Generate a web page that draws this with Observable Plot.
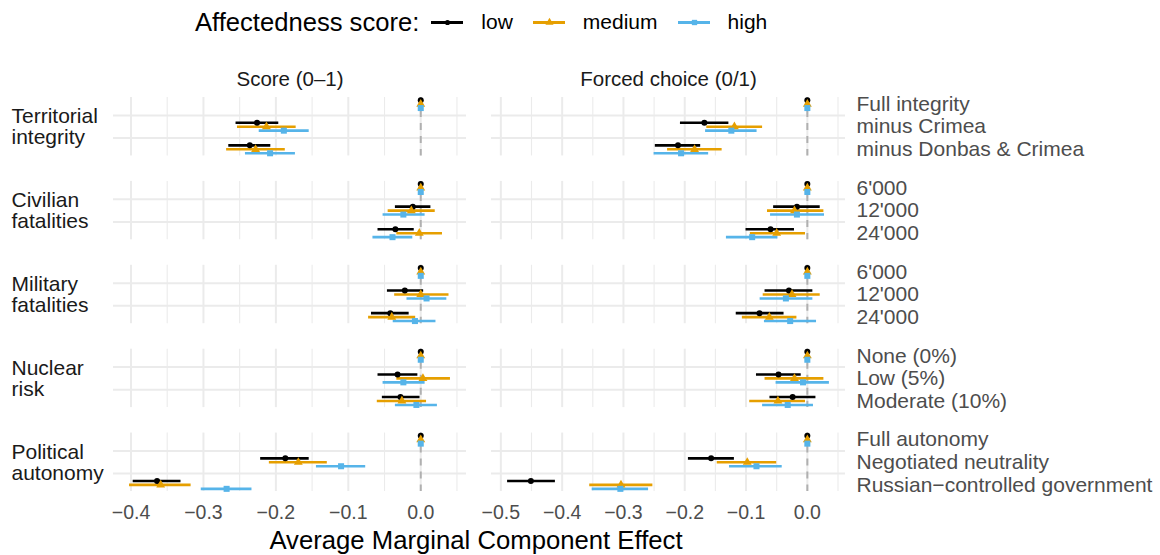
<!DOCTYPE html>
<html><head><meta charset="utf-8">
<script src="https://cdn.jsdelivr.net/npm/d3@7"></script>
<script src="https://cdn.jsdelivr.net/npm/@observablehq/plot@0.6"></script>
<style>
body{margin:0;width:1160px;height:555px;position:relative;background:#fff;font-family:"Liberation Sans",Arial,Helvetica,sans-serif;overflow:hidden}
#legend{position:absolute;left:195px;top:6px;height:32px;display:flex;align-items:center;color:#000}
#legend .title{font-size:25.6px;margin-right:12px}
#legend .lab{font-size:21px;margin-left:18px;margin-right:20px}
#legend svg{display:block}
#left{position:absolute;left:0;top:0}
#right{position:absolute;left:480px;top:0}
#xtitle{position:absolute;left:0;width:952px;top:526px;height:28px;line-height:28px;text-align:center;font-size:25.7px;color:#000}
</style></head><body>
<div id="legend"></div>
<div id="left"></div>
<div id="right"></div>
<div id="xtitle">Average Marginal Component Effect</div>
<script>
const FONT = '"Liberation Sans", Arial, Helvetica, sans-serif';

// ---- categories ----
const attributes = ["Territorial integrity", "Civilian fatalities", "Military fatalities", "Nuclear risk", "Political autonomy"];
const attributeLabels = ["Territorial\nintegrity", "Civilian\nfatalities", "Military\nfatalities", "Nuclear\nrisk", "Political\nautonomy"];
const levels = [
  ["Full integrity", "minus Crimea", "minus Donbas & Crimea"],
  ["6'000", "12'000", "24'000"],
  ["6'000", "12'000", "24'000"],
  ["None (0%)", "Low (5%)", "Moderate (10%)"],
  ["Full autonomy", "Negotiated neutrality", "Russian\u2212controlled government"]
];
const groups = ["low", "medium", "high"];
const groupColors = ["#000000", "#E69F00", "#56B4E9"];
const groupSymbols = ["circle", "triangle", "square"];
const measureTitles = ["Score (0\u20131)", "Forced choice (0/1)"];

// ---- values: [estimate, lower, upper] per level (attribute order, 3 levels each) ----
const scoreLow = [
  [0,0,0], [-0.226,-0.255,-0.196], [-0.236,-0.265,-0.207],
  [0,0,0], [-0.011,-0.035,0.014], [-0.035,-0.059,-0.009],
  [0,0,0], [-0.022,-0.046,0.004], [-0.042,-0.068,-0.016],
  [0,0,0], [-0.032,-0.059,-0.004], [-0.028,-0.053,-0.001],
  [0,0,0], [-0.187,-0.221,-0.154], [-0.364,-0.397,-0.331]
];
const scoreMedium = [
  [0,0,0], [-0.213,-0.253,-0.172], [-0.228,-0.268,-0.187],
  [0,0,0], [-0.013,-0.045,0.020], [-0.002,-0.033,0.030],
  [0,0,0], [0.000,-0.036,0.039], [-0.040,-0.072,-0.007],
  [0,0,0], [0.003,-0.033,0.041], [-0.026,-0.060,0.008],
  [0,0,0], [-0.169,-0.209,-0.129], [-0.359,-0.402,-0.317]
];
const scoreHigh = [
  [0,0,0], [-0.189,-0.223,-0.154], [-0.208,-0.242,-0.173],
  [0,0,0], [-0.024,-0.052,0.006], [-0.039,-0.066,-0.011],
  [0,0,0], [0.008,-0.019,0.036], [-0.008,-0.038,0.021],
  [0,0,0], [-0.024,-0.052,0.006], [-0.006,-0.035,0.023],
  [0,0,0], [-0.110,-0.144,-0.076], [-0.268,-0.303,-0.233]
];
const forcedLow = [
  [0,0,0], [-0.168,-0.207,-0.128], [-0.211,-0.248,-0.174],
  [0,0,0], [-0.017,-0.055,0.021], [-0.060,-0.100,-0.021],
  [0,0,0], [-0.030,-0.069,0.009], [-0.078,-0.116,-0.038],
  [0,0,0], [-0.047,-0.083,-0.010], [-0.024,-0.061,0.014],
  [0,0,0], [-0.157,-0.194,-0.119], [-0.451,-0.489,-0.411]
];
const forcedMedium = [
  [0,0,0], [-0.119,-0.164,-0.073], [-0.184,-0.228,-0.139],
  [0,0,0], [-0.021,-0.065,0.027], [-0.050,-0.093,-0.003],
  [0,0,0], [-0.025,-0.072,0.021], [-0.062,-0.106,-0.017],
  [0,0,0], [-0.021,-0.069,0.027], [-0.048,-0.094,-0.003],
  [0,0,0], [-0.098,-0.147,-0.050], [-0.304,-0.355,-0.252]
];
const forcedHigh = [
  [0,0,0], [-0.124,-0.166,-0.082], [-0.206,-0.250,-0.161],
  [0,0,0], [-0.017,-0.060,0.028], [-0.090,-0.132,-0.048],
  [0,0,0], [-0.035,-0.077,0.009], [-0.028,-0.070,0.015],
  [0,0,0], [-0.007,-0.051,0.036], [-0.032,-0.073,0.010],
  [0,0,0], [-0.083,-0.127,-0.041], [-0.305,-0.351,-0.259]
];

// ---- tick values ----
const scoreTicks = [-0.4, -0.3, -0.2, -0.1, 0];
const scoreMinor = [-0.35, -0.25, -0.15, -0.05, 0.05];
const forcedTicks = [-0.5, -0.4, -0.3, -0.2, -0.1, 0];
const forcedMinor = [-0.45, -0.35, -0.25, -0.15, -0.05, 0.05];
const levelGrid = [0.5, 1.5];
const dodge = [-0.175, 0, 0.175];

function buildRows(arrs) {
  const rows = [];
  attributes.forEach((a, ai) => {
    levels[ai].forEach((lv, li) => {
      groups.forEach((g, gi) => {
        const [est, lo, hi] = arrs[gi][ai * 3 + li];
        rows.push({attribute: a, level: lv, li, group: g, gi, est, lo, hi, yy: li + dodge[gi]});
      });
    });
  });
  return rows;
}
const levelRows = attributes.flatMap((a, ai) => levels[ai].map((lv, li) => ({attribute: a, li, label: lv})));

function panel({rows, title, ticks, minor, rowLabels, levelLabels, width, marginLeft, marginRight}) {
  const lo = d3.min(rows, d => d.lo), hi = d3.max(rows, d => d.hi), pad = (hi - lo) * 0.05;
  const marks = [
    Plot.ruleX(minor, {stroke: "#ebebeb", strokeWidth: 1.1}),
    Plot.ruleX(ticks, {stroke: "#ebebeb", strokeWidth: 2}),
    Plot.ruleY(levelGrid, {stroke: "#ebebeb", strokeWidth: 2}),
    Plot.ruleX([0], {stroke: "#b0b0b0", strokeWidth: 2, strokeDasharray: "7,6"}),
    Plot.ruleY(rows, {fy: "attribute", y: "yy", x1: "lo", x2: "hi", stroke: "group", strokeWidth: 2.6}),
    ...groups.map((g, gi) => Plot.dot(rows.filter(d => d.group === g), {
      fy: "attribute", y: "yy", x: "est", fill: groupColors[gi], symbol: groupSymbols[gi],
      r: [3.0, 3.3, 3.4][gi]
    })),
    Plot.text([{fy: attributes[0], t: title}], {
      fy: "fy", text: "t", frameAnchor: "top", dy: -18, lineAnchor: "middle",
      fontSize: 20.5, fill: "#1a1a1a"
    })
  ];
  if (rowLabels) marks.push(Plot.text(attributes, {
    fy: d => d, text: (d, i) => attributeLabels[i], frameAnchor: "left", textAnchor: "start",
    dx: -102, lineHeight: 1.0, fontSize: 21, fill: "#1a1a1a"
  }));
  if (levelLabels) marks.push(Plot.text(levelRows, {
    fy: "attribute", y: "li", text: "label", frameAnchor: "right", textAnchor: "start",
    dx: 11, fontSize: 21, fill: "#4d4d4d"
  }));
  return Plot.plot({
    width, height: 530, marginTop: 97, marginBottom: 39, marginLeft, marginRight,
    style: {fontFamily: FONT, fontSize: "19.5px", color: "#4d4d4d", background: "transparent", overflow: "visible"},
    x: {domain: [lo - pad, hi + pad], ticks, tickFormat: d3.format(".1f"), tickSize: 0, tickPadding: 14, label: null},
    y: {domain: [-0.2925, 2.2925], reverse: true, axis: null},
    fy: {domain: attributes, paddingInner: 0.3035, paddingOuter: 0, round: false, axis: null},
    color: {domain: groups, range: groupColors},
    marks
  });
}

document.getElementById("left").append(panel({
  rows: buildRows([scoreLow, scoreMedium, scoreHigh]), title: measureTitles[0],
  ticks: scoreTicks, minor: scoreMinor, rowLabels: true, levelLabels: false,
  width: 480, marginLeft: 113, marginRight: 14
}));
document.getElementById("right").append(panel({
  rows: buildRows([forcedLow, forcedMedium, forcedHigh]), title: measureTitles[1],
  ticks: forcedTicks, minor: forcedMinor, rowLabels: false, levelLabels: true,
  width: 680, marginLeft: 11, marginRight: 315
}));

// ---- legend ----
const legend = document.getElementById("legend");
const lt = document.createElement("span"); lt.className = "title"; lt.textContent = "Affectedness score:";
legend.append(lt);
groups.forEach((g, gi) => {
  const sw = Plot.plot({
    width: 32, height: 20, margin: 0,
    x: {domain: [0, 1], axis: null}, y: {domain: [0, 1], axis: null},
    style: {background: "transparent"},
    marks: [
      Plot.ruleY([0.5], {stroke: groupColors[gi], strokeWidth: 3}),
      Plot.dot([{x: 0.5, y: 0.5}], {x: "x", y: "y", fill: groupColors[gi], symbol: groupSymbols[gi], r: [2.6, 3, 3][gi]})
    ]
  });
  legend.append(sw);
  const lab = document.createElement("span"); lab.className = "lab"; lab.textContent = g;
  legend.append(lab);
});
</script>
</body></html>
